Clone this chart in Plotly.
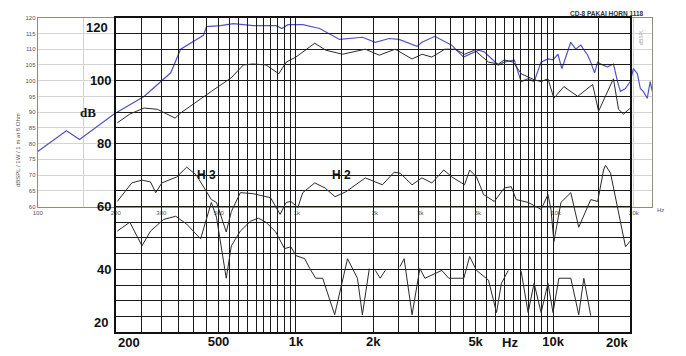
import math
import plotly.graph_objects as go

# ---- background chart (blue curve, 100 Hz .. ~23.5 kHz, 60..120 dB) ----
bg_freq = [100, 129, 145, 197, 257, 307, 326, 356, 436, 448, 507, 569, 678, 831, 876, 924,
           1055, 1225, 1462, 1790, 2010, 2270, 2480, 2910, 3040, 3410, 3960, 4400, 5030, 5300,
           5990, 6320, 6900, 7340, 7810, 8240, 8760, 9320, 9740, 10180, 10540, 11410, 11930,
           12470, 13270, 13620, 14100, 14490, 15140, 15820, 16680, 17290, 17740, 18540, 19370,
           19910, 20620, 21180, 21730, 22510, 23120, 23540]
bg_db = [77.5, 84.1, 81.3, 89.4, 95.0, 100.6, 102.5, 110.0, 114.4, 117.2, 117.5, 118.1, 117.5,
         117.5, 116.6, 117.8, 117.8, 116.6, 113.1, 113.8, 112.2, 113.4, 113.1, 110.9, 112.2,
         114.1, 111.3, 107.5, 109.7, 109.1, 105.0, 105.9, 106.6, 99.7, 100.6, 99.7, 105.9,
         106.9, 106.6, 108.4, 103.8, 112.2, 110.0, 111.3, 108.1, 105.9, 102.5, 105.9, 105.0,
         104.4, 105.3, 99.7, 96.6, 97.5, 99.7, 103.8, 102.2, 97.5, 96.6, 94.4, 99.7, 96.6]
bg_xticks = [100, 200, 300, 500, 1000, 2000, 3000, 5000, 10000, 20000]
bg_xtext = ["100", "200", "300", "500", "1k", "2k", "3k", "5k", "10k", "20k"]
bg_yticks = list(range(60, 121, 5))
bg_grid_freq = [150, 20000]

# ---- foreground chart (black grid, 200 Hz .. 20 kHz, 20..120 dB) ----
fund_freq = [202, 226, 257, 289, 315, 339, 356, 400, 469, 560, 625, 680, 765, 858, 917, 1000,
             1184, 1306, 1518, 1862, 2110, 2432, 2830, 3092, 3380, 3794, 4146, 4530, 4954,
             5610, 6130, 6470, 7000, 7520, 8440, 8990, 9560, 10080, 11020, 12480, 13640,
             14260, 15040, 17180, 17980, 18800, 20000]
fund_db = [86.6, 89.4, 91.3, 90.9, 89.4, 88.1, 89.7, 92.5, 96.6, 100.9, 105.0, 105.3, 105.0,
           102.2, 105.9, 107.5, 111.9, 109.7, 108.4, 110.0, 108.1, 110.0, 106.9, 108.4, 107.5,
           110.0, 110.0, 108.4, 109.7, 105.9, 105.3, 106.6, 105.9, 102.2, 100.3, 99.7, 100.6,
           94.4, 98.1, 95.0, 97.5, 98.8, 90.3, 100.6, 90.9, 89.4, 91.3]

h2_freq = [202, 230, 252, 272, 285, 301, 344, 376, 410, 469, 491, 536, 561, 608, 680, 797,
           868, 917, 956, 1018, 1063, 1184, 1298, 1420, 1566, 1862, 2170, 2410, 2545, 2830,
           3092, 3380, 3760, 4040, 4530, 4740, 5040, 5370, 5910, 6470, 6880, 7190, 8000, 8990,
           9560, 9820, 10080, 10740, 11730, 12590, 14020, 14920, 15730, 16000, 16740, 19140,
           20000]
h2_db = [61.6, 67.5, 68.4, 67.8, 64.4, 67.5, 69.4, 72.5, 70.0, 62.2, 61.3, 51.9, 58.4, 64.4,
         64.1, 62.8, 57.5, 61.3, 61.6, 59.7, 64.4, 67.5, 65.9, 63.1, 64.7, 69.1, 66.9, 70.9,
         70.6, 66.9, 69.1, 67.5, 71.6, 69.4, 66.9, 71.6, 69.4, 63.8, 61.6, 65.9, 66.3, 62.2,
         61.3, 59.1, 63.8, 59.1, 48.8, 61.3, 64.4, 53.4, 62.2, 61.6, 71.6, 73.1, 70.6, 47.2,
         49.1]

h3_freq = [202, 226, 252, 272, 306, 341, 376, 426, 445, 469, 491, 536, 561, 608, 665, 714,
           765, 835, 903, 956, 1000, 1083, 1132, 1194, 1271, 1415, 1588, 1735, 1814, 1930,
           1980, 2036, 2128, 2226, 2400, 2540, 2636, 2830, 3035, 3176, 3694, 3930, 4500, 4740,
           5040, 5610, 6030, 6300, 6700, 7100, 7520, 8000, 8440, 8990, 9560, 10000, 10540,
           11730, 12590, 13180, 14020]
h3_db = [52.2, 55.0, 47.5, 52.2, 55.9, 56.9, 54.4, 49.7, 55.0, 61.3, 56.6, 37.2, 47.5, 52.2,
         55.3, 56.3, 55.0, 51.9, 46.6, 47.2, 44.4, 43.4, 40.3, 37.2, 37.2, 25.6, 43.4, 37.2,
         25.6, 40.3, None, 39.7, 37.2, 39.7, None, 40.9, 43.4, 25.6, 40.3, 37.2, 39.7, 37.2,
         37.2, 44.1, 39.7, 36.6, 26.3, 35.6, 39.7, None, 39.4, 26.3, 35.6, 26.3, 35.6, 26.3,
         37.2, 37.2, 25.6, 37.2, 25.3]

fg_xgrid = list(range(200, 1001, 50)) + list(range(1500, 10001, 500)) + [15000, 20000]
fg_xlabels = {500: "500", 1000: "1k", 2000: "2k", 5000: "5k", 10000: "10k"}
fg_ygrid = list(range(20, 121, 5))
fg_ylabels = {40: "40", 60: "60", 80: "80", 100: "100"}

W, H = 686, 356
def px(x):
    return x / W
def py(y):
    return 1 - y / H

BIG = dict(family="Liberation Sans", size=13, color="#111111", weight="bold")
SMALL = dict(family="Liberation Sans", size=6, color="#555555")

fig = go.Figure()
fig.add_trace(go.Scatter(x=bg_freq, y=bg_db, mode="lines", xaxis="x", yaxis="y",
                         line=dict(color="#5252c8", width=1.2), hoverinfo="skip"))
fig.add_trace(go.Scatter(x=fund_freq, y=fund_db, mode="lines", xaxis="x2", yaxis="y2",
                         line=dict(color="#2a2a2a", width=1), hoverinfo="skip"))
fig.add_trace(go.Scatter(x=h2_freq, y=h2_db, mode="lines", xaxis="x2", yaxis="y2",
                         line=dict(color="#2a2a2a", width=1), hoverinfo="skip"))
fig.add_trace(go.Scatter(x=h3_freq, y=h3_db, mode="lines", xaxis="x2", yaxis="y2",
                         line=dict(color="#2a2a2a", width=1), hoverinfo="skip",
                         connectgaps=False))

fig.update_layout(
    width=W, height=H, margin=dict(l=0, r=0, t=0, b=0),
    paper_bgcolor="white", plot_bgcolor="rgba(0,0,0,0)", showlegend=False,
    xaxis=dict(type="log", domain=[px(33), px(652)], range=[2, math.log10(23540)],
               anchor="y", tickmode="array", tickvals=bg_xticks, ticktext=bg_xtext,
               showgrid=False, ticks="", tickfont=SMALL, showline=True, mirror=True,
               linecolor="#8e8e7c", linewidth=1, zeroline=False,
               minor=dict(tickmode="array", tickvals=bg_grid_freq, showgrid=True,
                          gridcolor="#d2d2d2", gridwidth=1, ticks="")),
    yaxis=dict(domain=[py(207), py(15)], range=[60, 120], anchor="x", tickmode="array",
               tickvals=bg_yticks, showgrid=True, gridcolor="#d4d4d4", gridwidth=1,
               ticks="", tickfont=SMALL, showline=True, mirror=True, linecolor="#8e8e7c",
               zeroline=False),
    xaxis2=dict(type="log", domain=[px(112), px(630)],
                range=[math.log10(200), math.log10(20000)], anchor="y2", tickmode="array",
                tickvals=fg_xgrid, ticktext=[fg_xlabels.get(v, "") for v in fg_xgrid],
                showgrid=True, gridcolor="#1a1a1a", gridwidth=1.3, ticks="", tickfont=BIG,
                ticklabelstandoff=-4,
                showline=True, mirror=True, linecolor="#111111", linewidth=2, zeroline=False),
    yaxis2=dict(domain=[py(335), py(15)], range=[20, 120], anchor="x2", tickmode="array",
                tickvals=fg_ygrid, ticktext=[fg_ylabels.get(v, "") for v in fg_ygrid],
                showgrid=True, gridcolor="#1a1a1a", gridwidth=1.3, ticks="", tickfont=BIG,
                showline=True, mirror=True, linecolor="#111111", linewidth=2, zeroline=False),
)

ann = []
# edge labels of the foreground axes
ann.append(dict(text="200", xref="x2", x=math.log10(200), xanchor="left", yref="paper",
                y=py(335), yanchor="top", yshift=-1, showarrow=False, font=BIG))
ann.append(dict(text="20k", xref="x2", x=math.log10(20000), xanchor="right", yref="paper",
                y=py(335), yanchor="top", yshift=-1, showarrow=False, font=BIG))
ann.append(dict(text="Hz", xref="x2", x=math.log10(6800), xanchor="center", yref="paper",
                y=py(335), yanchor="top", yshift=-1, showarrow=False, font=BIG))
ann.append(dict(text="120", xref="paper", x=px(106), xanchor="right", yref="y2", y=120,
                yanchor="top", showarrow=False, font=BIG))
ann.append(dict(text="20", xref="paper", x=px(106), xanchor="right", yref="y2", y=20,
                yanchor="bottom", showarrow=False, font=BIG))
ann.append(dict(text="dB", xref="paper", x=px(84), xanchor="center", yref="paper",
                y=py(111), yanchor="middle", showarrow=False,
                font=dict(family="Liberation Serif", size=13, color="#111111", weight="bold")))
ann.append(dict(text="H 3", xref="x2", x=math.log10(450), yref="y2", y=70,
                showarrow=False, font=dict(family="Liberation Sans", size=12, color="#111111",
                                           weight="bold")))
ann.append(dict(text="H 2", xref="x2", x=math.log10(1500), yref="y2", y=70,
                showarrow=False, font=dict(family="Liberation Sans", size=12, color="#111111",
                                           weight="bold")))
# background chart texts
ann.append(dict(text="Hz", xref="paper", x=px(666), yref="paper", y=py(211),
                showarrow=False, font=SMALL))
ann.append(dict(text="CD-8 PAKAI HORN 1118", xref="paper", x=px(606), xanchor="center",
                yref="paper", y=py(11), yanchor="middle", showarrow=False,
                font=dict(family="Liberation Sans", size=6.5, color="#333333", weight="bold")))
ann.append(dict(text="dBSPL / 1W / 1 m at 8 Ohm", xref="paper", x=px(8), yref="paper",
                y=py(110), textangle=-90, showarrow=False, font=SMALL))
ann.append(dict(text="dBSPL", xref="paper", x=px(645), yref="paper", y=py(24),
                textangle=-90, showarrow=False,
                font=dict(family="Liberation Sans", size=5, color="#999999")))
fig.update_layout(annotations=ann)

fig.write_html("out.html")
